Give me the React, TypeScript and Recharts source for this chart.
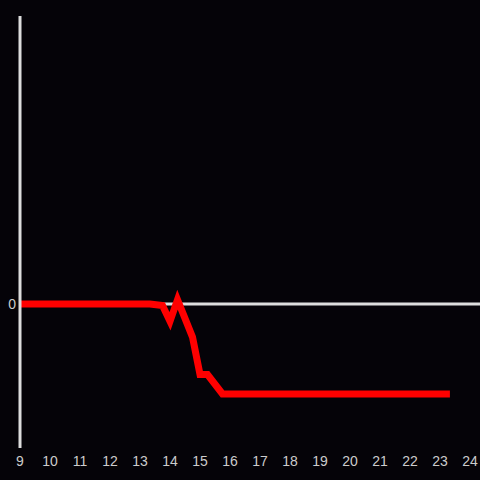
import { LineChart, Line, XAxis, YAxis, ReferenceLine } from 'recharts'

const hours = [9, 10, 11, 12, 13, 13.33, 13.75, 14, 14.25, 14.75, 15, 15.25, 15.75, 16, 17, 18, 19, 20, 21, 22, 23, 23.33]
const values = [0, 0, 0, 0, 0, 0, -0.01, -0.12, 0.03, -0.23, -0.49, -0.49, -0.625, -0.625, -0.625, -0.625, -0.625, -0.625, -0.625, -0.625, -0.625, -0.625]
const xTicks = [9, 10, 11, 12, 13, 14, 15, 16, 17, 18, 19, 20, 21, 22, 23, 24]
const yTicks = [0]

const data = hours.map((h, i) => ({ hour: h, value: values[i] }))

const tickStyle = { fill: '#cccccc', fontSize: 14, fontFamily: 'Liberation Sans, Arial, sans-serif' }

export default function App() {
  return (
    <div style={{ position: 'fixed', left: 0, top: 0, width: 480, height: 480, background: '#050308' }}>
      <LineChart width={480} height={480} data={data} margin={{ top: 16, right: 0, bottom: 0, left: 0 }}>
        <XAxis
          dataKey="hour"
          type="number"
          domain={[9, 24.333]}
          ticks={xTicks}
          axisLine={false}
          tickLine={false}
          height={32}
          tick={tickStyle}
          allowDataOverflow
        />
        <YAxis
          type="number"
          domain={[-1, 2]}
          ticks={yTicks}
          width={20}
          tickLine={false}
          tickSize={2}
          tickMargin={2}
          axisLine={{ stroke: '#dddddd', strokeWidth: 3 }}
          tick={tickStyle}
        />
        <ReferenceLine y={0} stroke="#dddddd" strokeWidth={3} />
        <Line
          type="linear"
          dataKey="value"
          stroke="#ff0000"
          strokeWidth={7}
          dot={false}
          isAnimationActive={false}
        />
      </LineChart>
    </div>
  )
}
